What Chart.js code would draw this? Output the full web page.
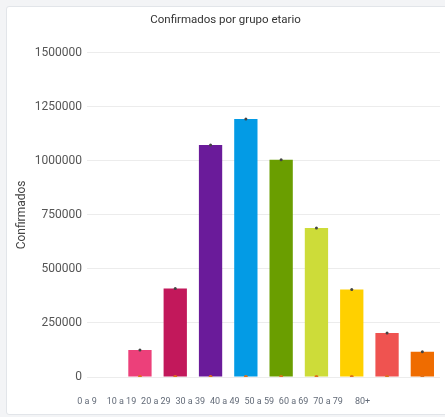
<!DOCTYPE html>
<html>
<head>
<meta charset="utf-8">
<script src="https://cdn.jsdelivr.net/npm/chart.js@4.4.1/dist/chart.umd.min.js"></script>
<style>
  html, body { margin: 0; padding: 0; width: 445px; height: 417px; overflow: hidden; background: #f3f4f6; }
  #card { position: absolute; left: 6px; top: 6px; width: 460px; height: 407px; background: #fff; border: 1px solid #e2e5e9; border-radius: 3px; }
  #wrap { position: absolute; left: 7px; top: 7px; width: 438px; height: 406px; }
</style>
</head>
<body>
<div id="card"></div>
<div id="wrap"><canvas id="c"></canvas></div>
<script>
// Age-group tick labels shown under the axis
const ageLabels = ['0 a 9', '10 a 19', '20 a 29', '30 a 39', '40 a 49', '50 a 59', '60 a 69', '70 a 79', '80+'];
// Bar slots (first slot is empty in the reference)
const barSlots = ['', '0 a 9', '10 a 19', '20 a 29', '30 a 39', '40 a 49', '50 a 59', '60 a 69', '70 a 79', '80+'];
// Confirmed cases per slot
const confirmados = [null, 125000, 410000, 1073000, 1194000, 1005000, 689000, 405000, 203000, 117000];
// Small secondary series drawn as dots at the base
const secondSeries = [null, 0, 0, 0, 0, 0, 0, 0, 0, 0];
const barColors = ['#ec407a', '#ec407a', '#c2185b', '#6a1b9a', '#039be5', '#6a9e00', '#cddc39', '#ffd000', '#ef5350', '#ef6c00'];
const yTicks = { min: 0, max: 1500000, step: 250000 };

new Chart(document.getElementById('c'), {
  data: {
    labels: barSlots,
    datasets: [
      {
        type: 'line', data: confirmados, showLine: false,
        pointRadius: 1.5, pointBackgroundColor: '#444', pointBorderWidth: 0, order: 0
      },
      {
        type: 'line', data: secondSeries, showLine: false,
        pointRadius: 2, pointBackgroundColor: '#e0711a', pointBorderWidth: 0, order: 0
      },
      {
        type: 'bar', data: confirmados, backgroundColor: barColors,
        barPercentage: 0.66, categoryPercentage: 1, order: 1
      }
    ]
  },
  options: {
    responsive: true, maintainAspectRatio: false, animation: false,
    layout: { padding: { left: 4, right: 5, bottom: 6, top: 0 } },
    plugins: {
      legend: { display: false }, tooltip: { enabled: false },
      title: {
        display: true, text: 'Confirmados por grupo etario', color: '#333',
        font: { family: 'Roboto', size: 11.5, weight: 'normal' },
        padding: { top: 6, bottom: 26 }
      }
    },
    scales: {
      x: {
        type: 'category', position: 'bottom',
        grid: { display: false, drawTicks: false }, border: { display: false },
        ticks: { display: false },
        afterFit: s => { s.height = 0; }
      },
      x2: {
        type: 'linear', position: 'bottom', min: 0, max: 10.25, bounds: 'data',
        afterBuildTicks: s => { s.ticks = ageLabels.map((_, i) => ({ value: i })); },
        afterFit: s => { s.height = 30; },
        grid: { display: false, drawTicks: false }, border: { display: false },
        ticks: {
          autoSkip: false, maxRotation: 0, minRotation: 0, padding: 19,
          color: '#636b78', font: { family: 'Roboto', size: 9 },
          callback: v => ageLabels[v] !== undefined ? ageLabels[v] : ''
        }
      },
      y: {
        min: yTicks.min, max: yTicks.max,
        afterFit: s => { s.width = 76; },
        grid: { color: '#ececec', drawTicks: false },
        border: { display: false },
        ticks: {
          stepSize: yTicks.step, padding: 5, color: '#555',
          font: { family: 'Roboto', size: 12 },
          callback: v => String(v)
        },
        title: { display: true, text: 'Confirmados', color: '#444', font: { family: 'Roboto', size: 12 } }
      }
    }
  }
});
</script>
</body>
</html>
